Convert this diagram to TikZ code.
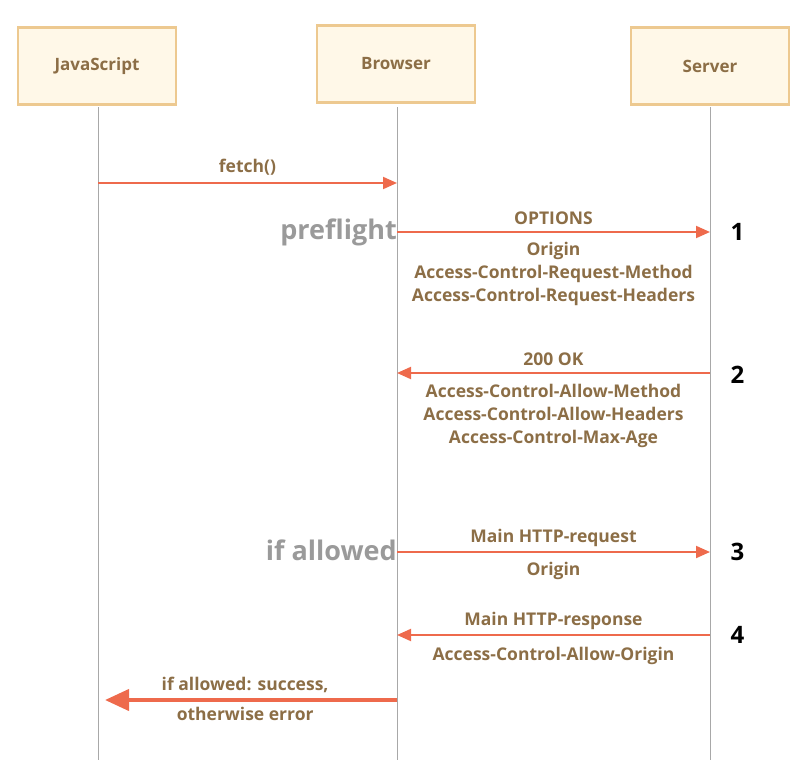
\documentclass[tikz,border=0pt]{standalone}
\usepackage{fontspec}
\setmainfont{Open Sans}
\definecolor{headfill}{HTML}{FFF8E8}
\definecolor{headdraw}{HTML}{EDC990}
\definecolor{msgtext}{HTML}{8C6E46}
\definecolor{msgline}{HTML}{EE6A4C}
\definecolor{lifegray}{HTML}{A8A8A8}
\definecolor{notegray}{HTML}{9A9A9A}
\usetikzlibrary{arrows.meta, positioning}

\begin{document}
\begin{tikzpicture}[x=1pt, y=-1pt,
      head/.style={draw=headdraw, fill=headfill, line width=2.5pt,
                   minimum width=158pt, minimum height=77pt,
                   font=\fontsize{17}{20}\selectfont\bfseries, text=msgtext},
      life/.style={draw=lifegray, line width=1pt},
      arr/.style={-{Triangle[length=14pt, width=12pt]}, line width=2pt, msgline},
      bigarr/.style={-{Triangle[length=24pt, width=21pt]}, line width=4pt, msgline},
      lbl/.style={font=\fontsize{17.5}{23}\selectfont\bfseries, text=msgtext, align=center},
      note/.style={font=\fontsize{27}{30}\selectfont\bfseries, text=notegray, inner xsep=0pt},
      step num/.style={font=\fontsize{24}{28}\selectfont\bfseries, text=black}
    ]
      \useasboundingbox (0,0) rectangle (812,774);

      % lifeline heads
      \node[head] (js)  at (97,66)  {JavaScript};
      \node[head] (brw) at (396,64) {Browser};
      \node[head] (srv) at (710,66) {Server};

      \coordinate (jsEnd)  at (98,760);
      \coordinate (brwEnd) at (397,760);
      \coordinate (srvEnd) at (710,760);
      \draw[life] (98,107)  -- (jsEnd);
      \draw[life] (397,107) -- (brwEnd);
      \draw[life] (710,107) -- (srvEnd);

      % message ends
      \coordinate (fetchJs)  at (98,183);
      \coordinate (fetchBrw) at (397,183);
      \coordinate (optBrw)   at (397,232);
      \coordinate (optSrv)   at (710,232);
      \coordinate (okSrv)    at (710,373);
      \coordinate (okBrw)    at (397,373);
      \coordinate (reqBrw)   at (397,552);
      \coordinate (reqSrv)   at (710,552);
      \coordinate (resSrv)   at (710,635);
      \coordinate (resBrw)   at (397,635);
      \coordinate (endBrw)   at (397,700);
      \coordinate (endJs)    at (105,700);

      \draw[arr] (fetchJs) -- (fetchBrw)
        node[lbl, midway, above=3pt] {fetch()};
      \draw[arr] (optBrw) -- (optSrv)
        node[lbl, midway, above=3pt] {OPTIONS}
        node[lbl, midway, below=6pt] {Origin\\Access-Control-Request-Method\\Access-Control-Request-Headers};
      \draw[arr] (okSrv) -- (okBrw)
        node[lbl, midway, above=3pt] {200 OK}
        node[lbl, midway, below=7pt] {Access-Control-Allow-Method\\Access-Control-Allow-Headers\\Access-Control-Max-Age};
      \draw[arr] (reqBrw) -- (reqSrv)
        node[lbl, midway, above=1pt] {Main HTTP-request}
        node[lbl, midway, below=6pt] {Origin};
      \draw[arr] (resSrv) -- (resBrw)
        node[lbl, midway, above=1pt] {Main HTTP-response}
        node[lbl, midway, below=8pt] {Access-Control-Allow-Origin};
      \draw[bigarr] (endBrw) -- (endJs)
        node[lbl, pos=0.52, above=2pt] {if allowed: success,}
        node[lbl, pos=0.52, below=2pt] {otherwise error};

      % side notes
      \node[note, left=0pt of optBrw]  (preflight) {preflight};
      \node[note, left=0pt of reqBrw, yshift=2pt] (allowed) {if allowed};

      \node[step num, right=17pt of optSrv] (n1) {1};
      \node[step num, right=17pt of okSrv, yshift=-2pt] (n2) {2};
      \node[step num, right=17pt of reqSrv] (n3) {3};
      \node[step num, right=17pt of resSrv] (n4) {4};
    \end{tikzpicture}
\end{document}
